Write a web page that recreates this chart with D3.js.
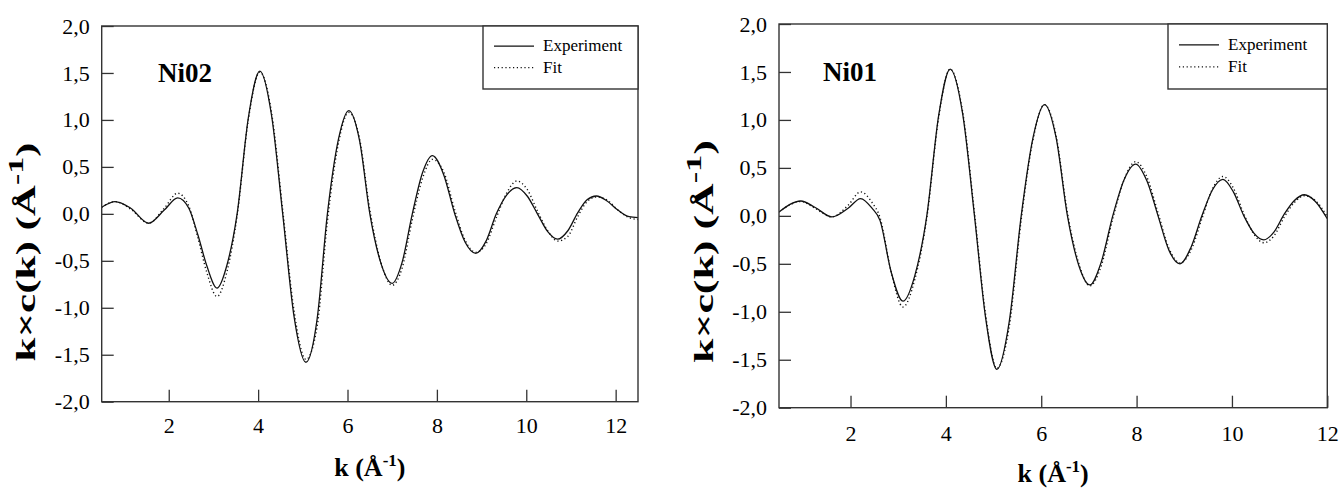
<!DOCTYPE html>
<html>
<head>
<meta charset="utf-8">
<script src="https://cdnjs.cloudflare.com/ajax/libs/d3/7.8.5/d3.min.js"></script>
<style>
    body { margin: 0; background: #fff; }
    svg { display: block; }
    svg text { font-family: "Liberation Serif", "Times New Roman", Times, "DejaVu Serif", serif; }
</style>
</head>
<body>
<svg id="chart" width="1340" height="490"></svg>
<script>
// k grid and curves (Ni02, left panel)
let kNi02 = [0.5, 0.8, 1.15, 1.55, 1.9, 2.2, 2.45, 2.65, 2.85, 3.08, 3.3, 3.53, 3.78, 4.04, 4.3, 4.55, 4.8, 5.07, 5.32, 5.55,
    5.8, 6.03, 6.27, 6.5, 6.75, 7.0, 7.22, 7.45, 7.68, 7.9, 8.15, 8.4, 8.63, 8.87, 9.1, 9.33, 9.56, 9.79, 10.02, 10.25,
    10.48, 10.7, 10.93, 11.15, 11.36, 11.57, 11.8, 12.05, 12.3, 12.5];
let expNi02 = [0.07, 0.13, 0.06, -0.1, 0.04, 0.17, 0.06, -0.22, -0.55, -0.79, -0.55, 0.0, 1.02, 1.52, 1.05, 0.0, -1.08, -1.58, -1.12, 0.0,
    0.8, 1.1, 0.78, 0.0, -0.53, -0.74, -0.52, 0.0, 0.44, 0.62, 0.42, 0.0, -0.3, -0.42, -0.29, 0.0, 0.2, 0.28, 0.19, 0.0,
    -0.19, -0.27, -0.18, 0.01, 0.15, 0.19, 0.14, 0.04, -0.03, -0.04];
let fitNi02 = [0.07, 0.13, 0.05, -0.1, 0.06, 0.22, 0.08, -0.25, -0.62, -0.88, -0.62, -0.02, 1.0, 1.51, 1.08, 0.04, -1.02, -1.55, -1.2, -0.08,
    0.76, 1.08, 0.8, 0.04, -0.52, -0.76, -0.58, -0.06, 0.38, 0.58, 0.45, 0.04, -0.28, -0.41, -0.32, -0.04, 0.22, 0.35, 0.26, 0.03,
    -0.18, -0.29, -0.24, -0.03, 0.13, 0.18, 0.15, 0.04, -0.04, -0.06];

// Ni01, right panel
let kNi01 = [0.5, 0.96, 1.25, 1.61, 1.95, 2.21, 2.45, 2.62, 2.85, 3.1, 3.35, 3.6, 3.85, 4.09, 4.35, 4.6, 4.83, 5.07, 5.33, 5.58,
    5.83, 6.07, 6.31, 6.55, 6.79, 7.02, 7.26, 7.5, 7.74, 7.98, 8.22, 8.45, 8.68, 8.91, 9.14, 9.37, 9.59, 9.81, 10.03, 10.25,
    10.46, 10.67, 10.88, 11.1, 11.31, 11.52, 11.75, 12.0];
let expNi01 = [0.04, 0.155, 0.09, -0.01, 0.08, 0.18, 0.08, -0.05, -0.58, -0.89, -0.62, 0.0, 1.05, 1.53, 1.07, 0.0, -1.05, -1.6, -1.1, 0.0,
    0.82, 1.16, 0.82, 0.0, -0.52, -0.72, -0.48, 0.0, 0.38, 0.54, 0.36, 0.0, -0.36, -0.5, -0.33, 0.0, 0.27, 0.38, 0.25, 0.0,
    -0.18, -0.25, -0.17, 0.02, 0.16, 0.22, 0.15, -0.03];
let fitNi01 = [0.04, 0.15, 0.08, -0.01, 0.11, 0.25, 0.14, -0.02, -0.58, -0.95, -0.66, -0.02, 1.03, 1.53, 1.09, 0.03, -1.02, -1.59, -1.15, -0.04,
    0.8, 1.16, 0.84, 0.03, -0.5, -0.73, -0.52, -0.03, 0.38, 0.565, 0.4, 0.03, -0.34, -0.49, -0.36, -0.03, 0.28, 0.41, 0.29, 0.02,
    -0.19, -0.28, -0.21, -0.01, 0.14, 0.21, 0.16, -0.01];

let xTicks = [2, 4, 6, 8, 10, 12];
let yTicks = [-2, -1.5, -1, -0.5, 0, 0.5, 1, 1.5, 2];
let legendLabels = ['Experiment', 'Fit'];

const SERIF = '"Liberation Serif", "Times New Roman", Times, "DejaVu Serif", serif';

let svg = d3.select('#chart').attr('font-family', SERIF);

// comma decimals, plain hyphen minus
let locale = d3.formatLocale({ decimal: ',', thousands: '.', grouping: [3], currency: ['', ''], minus: '-' });
let yFormat = locale.format('.1f');

let panels = [
    { name: 'Ni02', k: kNi02, exp: expNi02, fit: fitNi02, xDomain: [0.5, 12.5],
      left: 101.7, right: 638, top: 26, bottom: 401.7, labelX: 158,
      yTitleX: 25.5, yTitleY: 252, yTitleLen: 219, xTitleY: 476, xPad: 16,
      legend: { x: 483, y: 26, w: 155, h: 63 } },
    { name: 'Ni01', k: kNi01, exp: expNi01, fit: fitNi01, xDomain: [0.5, 12],
      left: 779, right: 1327.3, top: 24, bottom: 407.7, labelX: 823,
      yTitleX: 703, yTitleY: 251.5, yTitleLen: 223, xTitleY: 482, xPad: 18,
      legend: { x: 1168, y: 24, w: 159.3, h: 65 } }
];

panels.forEach(drawPanel);

function drawPanel(p) {
    let x = d3.scaleLinear().domain(p.xDomain).range([p.left, p.right]);
    let y = d3.scaleLinear().domain([-2, 2]).range([p.bottom, p.top]);

    let g = svg.append('g').attr('class', 'panel');

    svg.append('clipPath')
        .attr('id', 'clip-' + p.name)
        .append('rect')
        .attr('x', p.left)
        .attr('y', p.top)
        .attr('width', p.right - p.left)
        .attr('height', p.bottom - p.top);

    let line = d3.line()
        .x(d => x(d[0]))
        .y(d => y(d[1]))
        .curve(d3.curveMonotoneX);

    let plot = g.append('g').attr('clip-path', 'url(#clip-' + p.name + ')');

    plot.append('path')
        .datum(d3.zip(p.k, p.fit))
        .attr('d', line)
        .attr('fill', 'none')
        .attr('stroke', '#111')
        .attr('stroke-width', 1.4)
        .attr('stroke-dasharray', '1.2,2.6');

    plot.append('path')
        .datum(d3.zip(p.k, p.exp))
        .attr('d', line)
        .attr('fill', 'none')
        .attr('stroke', '#111')
        .attr('stroke-width', 1.3);

    // axes, ticks pointing inward
    let yAxis = g.append('g')
        .attr('transform', 'translate(' + p.left + ',0)')
        .call(d3.axisLeft(y).tickValues(yTicks).tickFormat(yFormat).tickSize(-12).tickPadding(12));

    let xAxis = g.append('g')
        .attr('transform', 'translate(0,' + p.bottom + ')')
        .call(d3.axisBottom(x).tickValues(xTicks).tickSize(-12).tickPadding(p.xPad));

    [xAxis, yAxis].forEach(a => {
        a.attr('font-family', SERIF).attr('font-size', 22);
        a.select('.domain').remove();
        a.selectAll('.tick line').attr('stroke', '#333').attr('stroke-width', 1.3);
        a.selectAll('.tick text').attr('fill', '#000');
    });

    g.append('rect')
        .attr('x', p.left)
        .attr('y', p.top)
        .attr('width', p.right - p.left)
        .attr('height', p.bottom - p.top)
        .attr('fill', 'none')
        .attr('stroke', '#333')
        .attr('stroke-width', 1.4);

    // sample label
    g.append('text')
        .attr('x', p.labelX)
        .attr('y', y(1.5) + 9)
        .attr('font-size', 27)
        .attr('font-weight', 'bold')
        .text(p.name);

    // legend
    let L = p.legend;
    g.append('rect')
        .attr('x', L.x)
        .attr('y', L.y)
        .attr('width', L.w)
        .attr('height', L.h)
        .attr('fill', '#fff')
        .attr('stroke', '#333')
        .attr('stroke-width', 1.4);

    legendLabels.forEach((lab, i) => {
        let ly = L.y + L.h * (i === 0 ? 0.32 : 0.66);
        g.append('line')
            .attr('x1', L.x + 11)
            .attr('x2', L.x + 51)
            .attr('y1', ly)
            .attr('y2', ly)
            .attr('stroke', '#111')
            .attr('stroke-width', i === 0 ? 1.3 : 1.4)
            .attr('stroke-dasharray', i === 0 ? null : '1.2,2.6');
        g.append('text')
            .attr('x', L.x + 60)
            .attr('y', ly + 5)
            .attr('font-size', 17)
            .text(lab);
    });

    // x title
    let xt = g.append('text')
        .attr('x', (p.left + p.right) / 2)
        .attr('y', p.xTitleY)
        .attr('text-anchor', 'middle')
        .attr('font-size', 26)
        .attr('font-weight', 'bold');
    xt.append('tspan').text('k (Å');
    xt.append('tspan').attr('dy', -10).attr('font-size', 17).text('-1');
    xt.append('tspan').attr('dy', 10).text(')');

    // y title, stretched along its length like the original
    let yt = g.append('text')
        .attr('text-anchor', 'middle')
        .attr('dominant-baseline', 'central')
        .attr('font-size', 28)
        .attr('font-weight', 'bold');
    yt.append('tspan').text('k×c(k) (Å');
    yt.append('tspan').attr('dy', -10).attr('font-size', 22).text('-1');
    yt.append('tspan').attr('dy', 10).text(')');

    let len = yt.node().getComputedTextLength();
    yt.attr('transform', 'translate(' + p.yTitleX + ',' + p.yTitleY + ') rotate(-90) scale(' + (p.yTitleLen / len) + ',1)');
}
</script>
</body>
</html>
